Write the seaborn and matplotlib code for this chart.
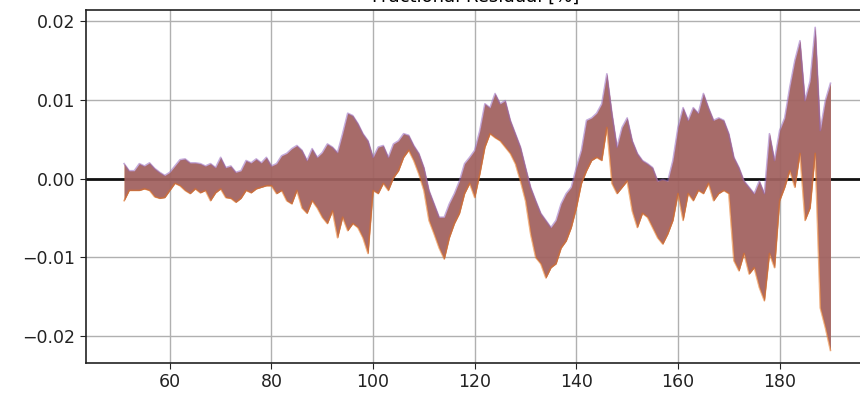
import numpy as np
import pandas as pd
import matplotlib
matplotlib.use("Agg")
import matplotlib.pyplot as plt
import seaborn as sns

# wavelength samples (1 unit step) and residual envelopes in units of 1e-3
x_vals = list(range(51, 191))
upper_e3 = [1.9, 1.0, 1.0, 1.9, 1.6, 2.0, 1.3, 0.8, 0.4, 0.8,
            1.6, 2.4, 2.5, 2.0, 2.0, 1.9, 1.6, 1.9, 1.4, 2.7,
            1.4, 1.6, 0.8, 1.0, 2.3, 2.0, 2.5, 2.0, 2.7, 1.6,
            1.9, 2.9, 3.2, 3.8, 4.2, 3.6, 2.3, 3.8, 2.7, 3.3,
            4.4, 4.0, 3.3, 5.7, 8.3, 8.0, 7.0, 5.7, 4.8, 2.7,
            4.0, 4.2, 2.7, 4.4, 4.8, 5.7, 5.5, 4.2, 3.2, 1.4,
            -1.5, -3.2, -4.9, -4.9, -3.2, -1.9, -0.3, 1.9, 2.7, 3.6,
            6.1, 9.5, 9.0, 10.8, 9.5, 9.9, 7.4, 5.7, 4.0, 1.4,
            -1.1, -2.8, -4.4, -5.3, -6.2, -5.3, -3.2, -1.9, -1.1, 1.4,
            3.6, 7.4, 7.7, 8.3, 9.5, 13.3, 8.3, 4.0, 6.5, 7.7,
            4.8, 3.2, 2.3, 1.9, 1.4, -0.3, -0.1, -0.3, 2.3, 6.5,
            9.0, 7.4, 9.0, 8.3, 10.8, 9.0, 7.4, 7.7, 7.4, 5.7,
            2.7, 1.4, -0.3, -1.1, -1.9, -0.3, -1.9, 5.7, 2.3, 6.1,
            7.7, 11.6, 15.0, 17.5, 9.9, 12.4, 19.2, 6.1, 9.9, 12.1]
lower_e3 = [-2.8, -1.5, -1.5, -1.5, -1.3, -1.5, -2.3, -2.5, -2.4, -1.5,
            -0.6, -0.9, -1.5, -1.9, -1.3, -1.8, -1.5, -2.8, -1.8, -1.3,
            -2.4, -2.5, -3.0, -2.5, -1.5, -1.8, -1.3, -1.1, -0.9, -0.9,
            -1.9, -1.5, -2.8, -3.2, -1.5, -3.7, -4.4, -2.8, -3.7, -4.9,
            -5.7, -4.1, -7.5, -4.9, -6.6, -5.7, -6.2, -7.5, -9.5, -1.5,
            -1.9, -0.6, -1.5, 0.1, 1.0, 2.7, 3.6, 2.3, 0.6, -1.5,
            -5.3, -7.0, -8.8, -10.2, -7.5, -5.7, -4.4, -1.9, -0.6, -2.4,
            0.6, 4.0, 5.7, 5.2, 4.8, 4.0, 3.2, 1.9, -0.3, -2.8,
            -7.0, -10.0, -10.8, -12.6, -11.3, -10.8, -8.8, -7.9, -6.2, -3.7,
            -0.6, 1.0, 2.3, 2.7, 2.3, 6.5, -0.6, -1.9, -1.1, -0.3,
            -4.1, -6.2, -4.4, -4.9, -6.2, -7.5, -8.3, -7.0, -5.3, -1.9,
            -5.3, -1.9, -2.8, -1.5, -1.9, -0.6, -2.8, -1.9, -1.5, -1.9,
            -10.4, -11.7, -9.5, -12.1, -11.3, -13.8, -15.5, -9.5, -11.3, -2.8,
            -1.1, 1.0, -1.1, 3.2, -5.3, -3.7, 3.2, -16.4, -18.9, -21.8]
x_ticks = [60, 80, 100, 120, 140, 160, 180]
y_ticks = [-0.02, -0.01, 0.00, 0.01, 0.02]
title_text = "Fractional Residual [%]"

x = np.array(x_vals, dtype=float)
upper = np.array(upper_e3) / 1000.0
lower = np.array(lower_e3) / 1000.0

df = pd.DataFrame({
    "x": np.concatenate([x, x]),
    "y": np.concatenate([upper, lower]),
    "edge": ["upper"] * len(x) + ["lower"] * len(x),
})

plt.rcParams.update({
    "font.family": ["DejaVu Sans"],
    "font.size": 13,
    "axes.edgecolor": "#222222",
    "axes.linewidth": 1.2,
    "xtick.color": "#222222",
    "ytick.color": "#222222",
})

fig = plt.figure(figsize=(8.6, 4.0), dpi=100)
ax = fig.add_axes([0.1, 0.0925, 0.907, 0.8825])

ax.grid(True, color="#b0b0b0", linewidth=1.0)
ax.set_axisbelow(True)
ax.axhline(0, color="#111111", linewidth=2.0, zorder=1)

ax.fill_between(x, lower, upper, color="#ff7f0e", alpha=0.7, lw=0, zorder=2)
ax.fill_between(x, lower, upper, color="#8c564b", alpha=0.7, lw=0, zorder=3)
ax.fill_between(x, lower, upper, color="#9467bd", alpha=0.25, lw=0, zorder=3)
sns.lineplot(data=df, x="x", y="y", hue="edge",
             palette={"upper": "#9467bd", "lower": "#e07020"},
             linewidth=1.2, alpha=0.55, legend=False, ax=ax, zorder=4)

ax.set_xlim(43.5, 197)
ax.set_ylim(-0.0234, 0.0214)
ax.set_xticks(x_ticks)
ax.set_yticks(y_ticks)
ax.set_yticklabels([f"{v:.2f}".replace("-", "\u2212") for v in y_ticks])
ax.set_xlabel("")
ax.set_ylabel("")
ax.set_title(title_text, fontsize=13)
ax.tick_params(labelsize=12.5, length=4)

fig.savefig("out.png", dpi=100)
